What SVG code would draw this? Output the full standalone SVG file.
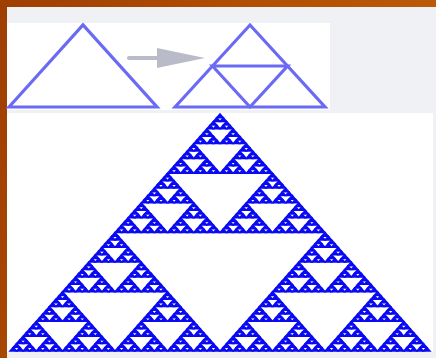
<svg xmlns="http://www.w3.org/2000/svg" xmlns:xlink="http://www.w3.org/1999/xlink" width="436" height="358" viewBox="0 0 436 358">
  <defs>
    <linearGradient id="bg" x1="0" y1="0" x2="1" y2="0.3">
      <stop offset="0" stop-color="#9e3e02"/>
      <stop offset="0.5" stop-color="#b04e02"/>
      <stop offset="1" stop-color="#bc5c08"/>
    </linearGradient>
    <polygon id="s0" points="0,3.703 3.281,0 6.5625,3.703" fill="#0a0af2" stroke="#0a0af2" stroke-width="1.5"/>
    <g id="s1"><use xlink:href="#s0" x="3.28125" y="0"/><use xlink:href="#s0" x="0" y="3.703125"/><use xlink:href="#s0" x="6.5625" y="3.703125"/></g>
    <g id="s2"><use xlink:href="#s1" x="6.5625" y="0"/><use xlink:href="#s1" x="0" y="7.40625"/><use xlink:href="#s1" x="13.125" y="7.40625"/></g>
    <g id="s3"><use xlink:href="#s2" x="13.125" y="0"/><use xlink:href="#s2" x="0" y="14.8125"/><use xlink:href="#s2" x="26.25" y="14.8125"/></g>
    <g id="s4"><use xlink:href="#s3" x="26.25" y="0"/><use xlink:href="#s3" x="0" y="29.625"/><use xlink:href="#s3" x="52.5" y="29.625"/></g>
    <g id="s5"><use xlink:href="#s4" x="52.5" y="0"/><use xlink:href="#s4" x="0" y="59.25"/><use xlink:href="#s4" x="105" y="59.25"/></g>
    <g id="s6"><use xlink:href="#s5" x="105" y="0"/><use xlink:href="#s5" x="0" y="118.5"/><use xlink:href="#s5" x="210" y="118.5"/></g>
  </defs>
  <style>
    .tri { fill: none; stroke: #6a6af4; stroke-width: 3.2; stroke-linejoin: miter; }
  </style>
  <rect id="background" x="0" y="0" width="436" height="358" fill="url(#bg)"/>
  <rect id="panel" x="7" y="7" width="429" height="351" fill="#f0f1f5"/>
  <g id="rule-box">
    <rect x="7" y="23" width="323" height="87" fill="#ffffff"/>
    <polygon class="tri" points="9,107 83,25 157,107"/>
    <g id="arrow">
      <line x1="129" y1="58" x2="160" y2="58" stroke="#b9bbc9" stroke-width="4" stroke-linecap="round"/>
      <polygon points="157,48 205,58 157,68" fill="#b9bbc9"/>
    </g>
    <polygon class="tri" points="175,107 250,25 325,107"/>
    <polygon class="tri" points="212.5,66 250,107 287.5,66 212.5,66"/>
  </g>
  <g id="sierpinski">
    <rect x="7" y="113" width="426" height="239" fill="#ffffff"/>
    <use xlink:href="#s6" x="10" y="114"/>
  </g>
</svg>
